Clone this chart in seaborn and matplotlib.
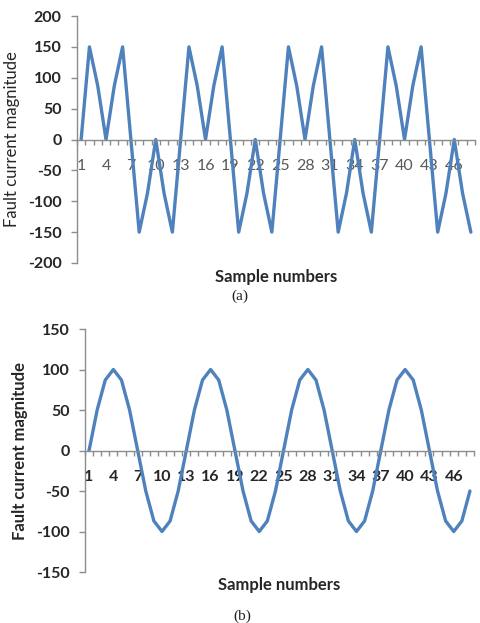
import numpy as np
import pandas as pd
import matplotlib
matplotlib.use("Agg")
import matplotlib.pyplot as plt
import seaborn as sns
from matplotlib.ticker import FixedLocator

# ---------------------------
# Data
# ---------------------------
samples = list(range(1, 49))

fault_a = [0, 150, 87, 0, 87, 150, 0, -150, -87, 0, -87, -150,
           0, 150, 87, 0, 87, 150, 0, -150, -87, 0, -87, -150,
           0, 150, 87, 0, 87, 150, 0, -150, -87, 0, -87, -150,
           0, 150, 87, 0, 87, 150, 0, -150, -87, 0, -87, -150]

fault_b = [0, 50, 87, 100, 87, 50, 0, -50, -87, -100, -87, -50,
           0, 50, 87, 100, 87, 50, 0, -50, -87, -100, -87, -50,
           0, 50, 87, 100, 87, 50, 0, -50, -87, -100, -87, -50,
           0, 50, 87, 100, 87, 50, 0, -50, -87, -100, -87, -50]

x_labels = [str(s) for s in range(1, 47, 3)]
y_ticks_a = [-200, -150, -100, -50, 0, 50, 100, 150, 200]
y_ticks_b = [-150, -100, -50, 0, 50, 100, 150]

df = pd.DataFrame({"sample": samples, "a": fault_a, "b": fault_b})

# ---------------------------
# Style
# ---------------------------
sns.set_style("white")
plt.rcParams['font.family'] = ['Lato', 'DejaVu Sans']

LINE = "#4F81BD"
AXIS = "#8C8C8C"
TEXT = "#262626"

W, H = 481, 623
fig = plt.figure(figsize=(W / 100, H / 100), dpi=100)


def make_axes(left, right, top, bottom):
    return fig.add_axes([left / W, 1 - bottom / H, (right - left) / W, (bottom - top) / H])


def style_axes(ax, yticks, xlab_bold, ylab_bold, ylab_x, xlab_y):
    ax.set_xlim(0.5, 48.5)
    ax.set_ylim(yticks[0], yticks[-1])
    for s in ["top", "right"]:
        ax.spines[s].set_visible(False)
    ax.spines["bottom"].set_position(("data", 0))
    for s in ["left", "bottom"]:
        ax.spines[s].set_color(AXIS)
        ax.spines[s].set_linewidth(1.0)

    ax.set_yticks(yticks)
    ax.set_yticklabels([str(v) for v in yticks], fontsize=11.5,
                       fontweight="bold", color=TEXT)
    ax.tick_params(axis="y", direction="out", length=4, width=1,
                   color=AXIS, pad=7, left=True)

    ax.xaxis.set_major_locator(FixedLocator(list(range(1, 47, 3))))
    ax.set_xticklabels(x_labels, fontsize=11.5,
                       fontweight="bold" if xlab_bold else "normal",
                       color=TEXT if xlab_bold else "#595959")
    ax.xaxis.set_minor_locator(FixedLocator(np.arange(0.5, 49, 1)))
    ax.tick_params(axis="x", which="major", length=0, pad=14, bottom=True)
    ax.tick_params(axis="x", which="minor", direction="out", length=3.5,
                   width=1, color=AXIS, bottom=True)

    ax.set_xlabel("Sample numbers", fontsize=12, fontweight="bold", color=TEXT)
    ax.xaxis.set_label_coords(0.5, xlab_y)
    ax.xaxis.label.set_va("center")
    ax.set_ylabel("Fault current magnitude", fontsize=12,
                  fontweight="bold" if ylab_bold else "normal", color=TEXT)
    ax.yaxis.set_label_coords(ylab_x, 0.5)
    ax.yaxis.label.set_va("center")


# ---------------------------
# Panel (a)
# ---------------------------
ax1 = make_axes(77, 475, 16, 263)
sns.lineplot(data=df, x="sample", y="a", ax=ax1, color=LINE, linewidth=2.4,
             solid_joinstyle="round")
style_axes(ax1, y_ticks_a, xlab_bold=False, ylab_bold=False,
           ylab_x=-0.163, xlab_y=-0.057)
fig.text(240 / W, 1 - 296 / H, "(a)", ha="center", va="center",
         family="Liberation Serif", fontsize=11, color="#222222")

# ---------------------------
# Panel (b)
# ---------------------------
ax2 = make_axes(85, 474, 329, 572)
sns.lineplot(data=df, x="sample", y="b", ax=ax2, color=LINE, linewidth=2.4,
             solid_joinstyle="round")
style_axes(ax2, y_ticks_b, xlab_bold=True, ylab_bold=True,
           ylab_x=-0.167, xlab_y=-0.053)
fig.text(242 / W, 1 - 616 / H, "(b)", ha="center", va="center",
         family="Liberation Serif", fontsize=11, color="#222222")

fig.savefig("out.png", dpi=100)
